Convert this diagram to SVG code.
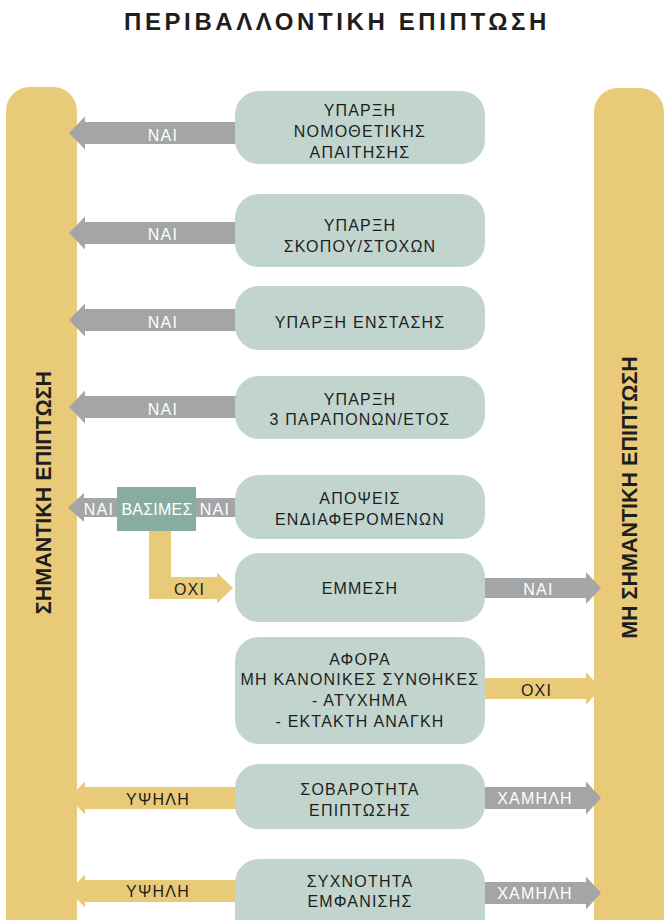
<svg xmlns="http://www.w3.org/2000/svg" width="665" height="920" viewBox="0 0 665 920">
<style>
.bar{fill:#E9CA78}
.box{fill:#C1D5CE}
.gr{fill:#A4A5A6}
.ye{fill:#E9CA78}
.t{font-family:"Liberation Sans",Arial,sans-serif;font-size:16px;letter-spacing:1.2px;fill:#1E1E1E;text-anchor:middle}
.w{fill:#FFFFFF}
.vt{font-family:"Liberation Sans",Arial,sans-serif;font-size:21.5px;font-weight:bold;fill:#1E1E1E;text-anchor:middle}
.title{font-family:"Liberation Sans",Arial,sans-serif;font-size:24px;font-weight:bold;letter-spacing:3.6px;fill:#1E1E1E;text-anchor:middle}
</style>
<rect width="665" height="920" fill="#FFFFFF"/>
<text class="title" x="337" y="30">ΠΕΡΙΒΑΛΛΟΝΤΙΚΗ ΕΠΙΠΤΩΣΗ</text>

<g id="significant">
<rect class="bar" x="6" y="87" width="71" height="900" rx="24"/>
<text class="vt" transform="translate(50.5,492.5) rotate(-90)">ΣΗΜΑΝΤΙΚΗ ΕΠΙΠΤΩΣΗ</text>
</g>
<g id="not-significant">
<rect class="bar" x="594" y="88" width="70" height="900" rx="24"/>
<text class="vt" transform="translate(637,497.5) rotate(-90)">ΜΗ ΣΗΜΑΝΤΙΚΗ ΕΠΙΠΤΩΣΗ</text>
</g>

<g id="connectors">
<path class="gr" d="M236,122 L85,122 L85,116.5 L69,133 L85,149.5 L85,144 L236,144 Z"/>
<text class="t w" x="163" y="140.5">ΝΑΙ</text>
<path class="gr" d="M236,222 L85,222 L85,216.5 L69,233 L85,249.5 L85,244 L236,244 Z"/>
<text class="t w" x="163" y="240">ΝΑΙ</text>
<path class="gr" d="M236,309 L85,309 L85,303.5 L69,320 L85,336.5 L85,331 L236,331 Z"/>
<text class="t w" x="163" y="327.5">ΝΑΙ</text>
<path class="gr" d="M236,396 L85,396 L85,390.5 L69,407 L85,423.5 L85,418 L236,418 Z"/>
<text class="t w" x="163" y="414.5">ΝΑΙ</text>
<path class="gr" d="M236,498 L84,498 L84,493 L68,507.5 L84,522 L84,517 L236,517 Z"/>
<text class="t w" x="99" y="515">ΝΑΙ</text>
<text class="t w" x="215" y="515">ΝΑΙ</text>
<path class="ye" d="M149,531 L171,531 L171,577 L217,577 L217,572.5 L233,588 L217,603.5 L217,599 L149,599 Z"/>
<text class="t" x="189.5" y="594.5">ΟΧΙ</text>
<path class="gr" d="M485,578 L586,578 L586,572 L601,588 L586,604 L586,598 L485,598 Z"/>
<text class="t w" x="538.5" y="595">ΝΑΙ</text>
<path class="ye" d="M485,678 L586,678 L586,672 L601,688.5 L586,705 L586,699 L485,699 Z"/>
<text class="t" x="536.5" y="695.5">ΟΧΙ</text>
<path class="ye" d="M236,787 L85,787 L85,781.5 L69,798 L85,814.5 L85,809 L236,809 Z"/>
<text class="t" x="158" y="805">ΥΨΗΛΗ</text>
<path class="gr" d="M485,787 L586,787 L586,781.5 L601,798 L586,814.5 L586,809 L485,809 Z"/>
<text class="t w" x="535" y="804">ΧΑΜΗΛΗ</text>
<path class="ye" d="M236,880 L85,880 L85,874.5 L69,891 L85,907.5 L85,902 L236,902 Z"/>
<text class="t" x="158" y="896.5">ΥΨΗΛΗ</text>
<path class="gr" d="M485,882 L586,882 L586,876.5 L601,893 L586,909.5 L586,904 L485,904 Z"/>
<text class="t w" x="535" y="898.5">ΧΑΜΗΛΗ</text>
</g>

<g id="legal-requirement">
<rect class="box" x="235" y="91" width="250" height="73" rx="24"/>
<text class="t" x="360" y="115.5">ΥΠΑΡΞΗ</text>
<text class="t" x="360" y="136.5">ΝΟΜΟΘΕΤΙΚΗΣ</text>
<text class="t" x="360" y="157.5">ΑΠΑΙΤΗΣΗΣ</text>
</g>
<g id="objectives">
<rect class="box" x="235" y="194" width="250" height="73" rx="24"/>
<text class="t" x="360" y="230.5">ΥΠΑΡΞΗ</text>
<text class="t" x="360" y="251.5">ΣΚΟΠΟΥ/ΣΤΟΧΩΝ</text>
</g>
<g id="objection">
<rect class="box" x="235" y="286" width="250" height="64" rx="24"/>
<text class="t" x="360" y="327.5">ΥΠΑΡΞΗ ΕΝΣΤΑΣΗΣ</text>
</g>
<g id="complaints">
<rect class="box" x="235" y="376" width="250" height="63" rx="24"/>
<text class="t" x="360" y="405">ΥΠΑΡΞΗ</text>
<text class="t" x="360" y="425">3 ΠΑΡΑΠΟΝΩΝ/ΕΤΟΣ</text>
</g>
<g id="stakeholders">
<rect class="box" x="235" y="475" width="250" height="64" rx="24"/>
<text class="t" x="360" y="504">ΑΠΟΨΕΙΣ</text>
<text class="t" x="360" y="525">ΕΝΔΙΑΦΕΡΟΜΕΝΩΝ</text>
</g>
<g id="valid">
<rect x="117" y="487" width="79" height="44" fill="#88AD9F"/>
<text class="t w" x="157" y="515" style="letter-spacing:0.2px">ΒΑΣΙΜΕΣ</text>
</g>
<g id="indirect">
<rect class="box" x="235" y="553" width="250" height="69" rx="24"/>
<text class="t" x="360" y="594">ΕΜΜΕΣΗ</text>
</g>
<g id="abnormal">
<rect class="box" x="235" y="637" width="250" height="107" rx="24"/>
<text class="t" x="360" y="664.5">ΑΦΟΡΑ</text>
<text class="t" x="360" y="685">ΜΗ ΚΑΝΟΝΙΚΕΣ ΣΥΝΘΗΚΕΣ</text>
<text class="t" x="360" y="706">- ΑΤΥΧΗΜΑ</text>
<text class="t" x="360" y="727">- ΕΚΤΑΚΤΗ ΑΝΑΓΚΗ</text>
</g>
<g id="severity">
<rect class="box" x="235" y="764" width="250" height="65" rx="24"/>
<text class="t" x="360" y="794.5">ΣΟΒΑΡΟΤΗΤΑ</text>
<text class="t" x="360" y="816">ΕΠΙΠΤΩΣΗΣ</text>
</g>
<g id="frequency">
<rect class="box" x="235" y="859" width="250" height="90" rx="24"/>
<text class="t" x="360" y="886.5">ΣΥΧΝΟΤΗΤΑ</text>
<text class="t" x="360" y="907">ΕΜΦΑΝΙΣΗΣ</text>
</g>
</svg>
